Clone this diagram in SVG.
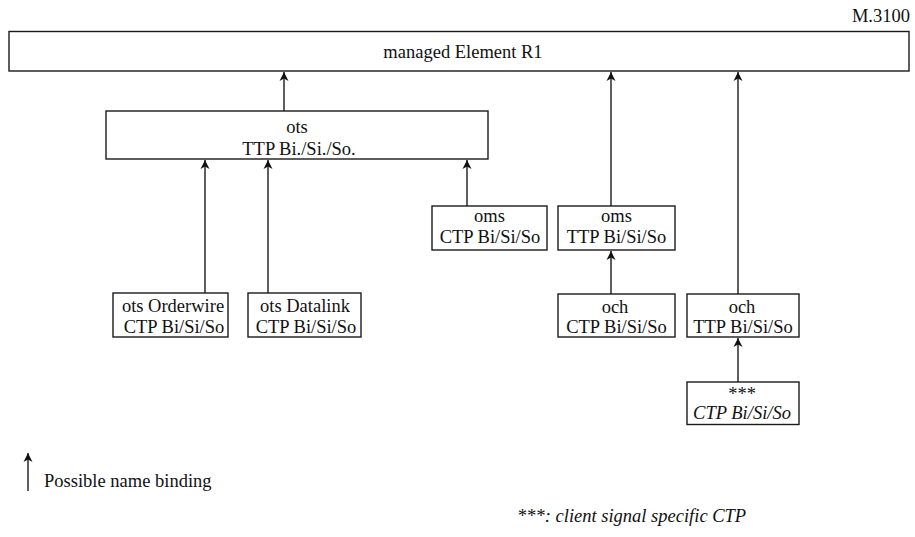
<svg xmlns="http://www.w3.org/2000/svg" width="915" height="537" viewBox="0 0 915 537">
<style>
.box{fill:#fff;stroke:#1a1a1a;stroke-width:1.4}
.t{font-family:"Liberation Serif","Times New Roman",serif;font-size:18.5px;fill:#111}
.c{text-anchor:middle}
.i{font-style:italic}
.ln{stroke:#1a1a1a;stroke-width:1.4;fill:none}
</style>
<defs>
<marker id="ah" viewBox="0 0 10 10" refX="10" refY="5" markerWidth="10" markerHeight="10" markerUnits="userSpaceOnUse" orient="auto">
<path d="M10,5 L1,0.5 L3.5,5 L1,9.5 Z" fill="#111"/>
</marker>
</defs>
<rect width="915" height="537" fill="#fff"/>
<text class="t" x="910" y="22" text-anchor="end">M.3100</text>
<g id="managedElement">
<rect class="box" x="9" y="31.5" width="900" height="39.5"/>
<text class="t c" x="463" y="58">managed Element R1</text>
</g>
<g id="otsTTP">
<rect class="box" x="106" y="111" width="382" height="48"/>
<text class="t c" x="297" y="133">ots</text>
<text class="t c" x="299" y="155">TTP Bi./Si./So.</text>
</g>
<g id="otsOrderwire">
<rect class="box" x="113" y="293" width="115" height="44"/>
<text class="t c" x="173" y="312">ots Orderwire</text>
<text class="t c" x="174" y="333">CTP Bi/Si/So</text>
</g>
<g id="otsDatalink">
<rect class="box" x="248" y="293" width="113" height="44"/>
<text class="t c" x="305" y="312">ots Datalink</text>
<text class="t c" x="306" y="333">CTP Bi/Si/So</text>
</g>
<g id="omsCTP">
<rect class="box" x="432" y="206" width="115" height="44"/>
<text class="t c" x="489.5" y="222">oms</text>
<text class="t c" x="490" y="243">CTP Bi/Si/So</text>
</g>
<g id="omsTTP">
<rect class="box" x="558" y="206" width="117" height="44"/>
<text class="t c" x="616.5" y="222">oms</text>
<text class="t c" x="616.5" y="243">TTP Bi/Si/So</text>
</g>
<g id="ochCTP">
<rect class="box" x="558" y="294" width="117" height="43"/>
<text class="t c" x="615" y="313">och</text>
<text class="t c" x="616.5" y="333">CTP Bi/Si/So</text>
</g>
<g id="ochTTP">
<rect class="box" x="687" y="294" width="112" height="43"/>
<text class="t c" x="742" y="313">och</text>
<text class="t c" x="743" y="333">TTP Bi/Si/So</text>
</g>
<g id="clientCTP">
<rect class="box" x="687" y="382" width="112" height="42.5"/>
<text class="t c" x="742" y="400">***</text>
<text class="t c i" x="742" y="419">CTP Bi/Si/So</text>
</g>
<g id="connectors">
<line class="ln" x1="284" y1="111" x2="284" y2="72" marker-end="url(#ah)"/>
<line class="ln" x1="205" y1="293" x2="205" y2="160" marker-end="url(#ah)"/>
<line class="ln" x1="268" y1="293" x2="268" y2="160" marker-end="url(#ah)"/>
<line class="ln" x1="467" y1="206" x2="467" y2="160" marker-end="url(#ah)"/>
<line class="ln" x1="611" y1="206" x2="611" y2="72" marker-end="url(#ah)"/>
<line class="ln" x1="611" y1="294" x2="611" y2="251" marker-end="url(#ah)"/>
<line class="ln" x1="738" y1="294" x2="738" y2="72" marker-end="url(#ah)"/>
<line class="ln" x1="738" y1="382" x2="738" y2="338" marker-end="url(#ah)"/>
</g>
<g id="legend">
<line class="ln" x1="28" y1="491" x2="28" y2="453" marker-end="url(#ah)"/>
<text class="t" x="44" y="487">Possible name binding</text>
<text class="t i" x="517" y="522">***: client signal specific CTP</text>
</g>
</svg>
